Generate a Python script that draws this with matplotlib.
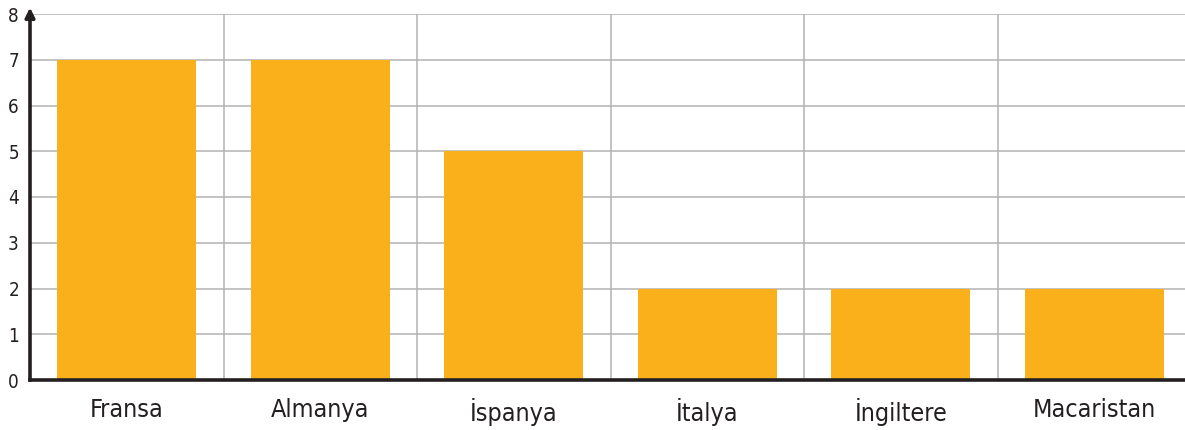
import matplotlib.pyplot as plt

countries = ["Fransa", "Almanya", "İspanya", "İtalya", "İngiltere", "Macaristan"]
values = [7, 7, 5, 2, 2, 2]
y_ticks = [0, 1, 2, 3, 4, 5, 6, 7, 8]

plt.rcParams["font.family"] = ["DejaVu Sans"]
plt.rcParams["font.stretch"] = "condensed"

W, H = 1185, 430
fig = plt.figure(figsize=(W / 100, H / 100), dpi=100)
left, right, bottom, top = 30, 1185, 380, 14
ax = fig.add_axes([left / W, 1 - bottom / H, (right - left) / W, (bottom - top) / H])

x = list(range(len(countries)))
cell = 193.5
ax.set_xlim(-0.5, (right - left) / cell - 0.5)
ax.set_ylim(0, 8)

ax.bar(x, values, width=0.72, color="#F9B01B", zorder=2)

# grid: horizontal at each unit, vertical at category boundaries
for y in y_ticks[1:]:
    ax.axhline(y, color="#b3b3b3", lw=1.1, zorder=1)
for b in [i + 0.5 for i in x[:-1]]:
    ax.axvline(b, color="#b3b3b3", lw=1.1, zorder=1)

for s in ["top", "right"]:
    ax.spines[s].set_visible(False)
for s in ["left", "bottom"]:
    ax.spines[s].set_linewidth(2.6)
    ax.spines[s].set_color("#231f20")
    ax.spines[s].set_zorder(3)

ax.set_yticks(y_ticks)
ax.set_yticklabels([str(v) for v in y_ticks], fontsize=13.5, color="#231f20",
                   fontstretch="condensed")
ax.set_xticks(x)
ax.set_xticklabels(countries, fontsize=18, color="#231f20", fontstretch="condensed")
ax.tick_params(axis="y", length=0, pad=8)
ax.tick_params(axis="x", length=0, pad=13)

# arrow head on top of the y axis
ax.annotate("", xy=(-0.5, 8.2), xytext=(-0.5, 7.9), xycoords="data",
            arrowprops=dict(arrowstyle="-|>", color="#231f20", lw=2.5,
                            mutation_scale=14), annotation_clip=False)

fig.savefig("out.png", dpi=100)
